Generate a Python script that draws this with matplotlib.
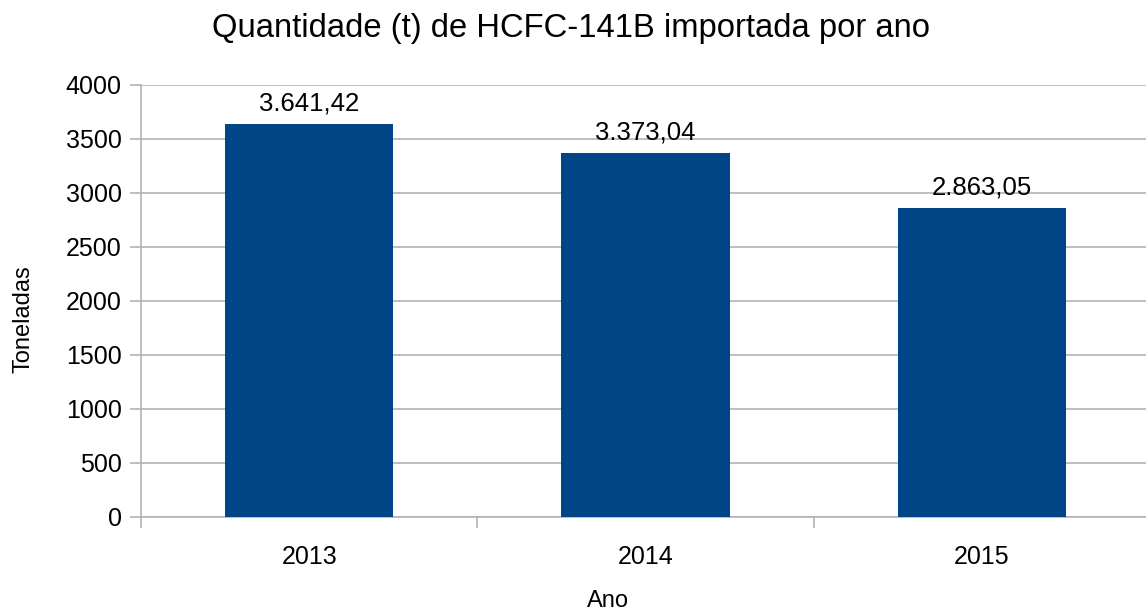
import numpy as np
import matplotlib.pyplot as plt

plt.rcParams['font.family'] = ['Liberation Sans', 'DejaVu Sans']

anos = ['2013', '2014', '2015']
toneladas = [3641.42, 3373.04, 2863.05]
rotulos = ['3.641,42', '3.373,04', '2.863,05']
yticks = [0, 500, 1000, 1500, 2000, 2500, 3000, 3500, 4000]

grid_cor = '#b3b3b3'
bar_cor = '#004586'

fig = plt.figure(figsize=(11.46, 6.13), dpi=100)
# plot area runs a little past the right edge of the figure
ax = fig.add_axes([141 / 1146, 1 - 517 / 613, (1150 - 141) / 1146, (517 - 85) / 613])

x = np.arange(len(anos))
ax.bar(x, toneladas, width=0.5, color=bar_cor, zorder=3)

for xi, v, r in zip(x, toneladas, rotulos):
    ax.text(xi, v + 80, r, ha='center', va='bottom', fontsize=18.5, color='black', zorder=4)

ax.set_xlim(-0.5, 2.5)
ax.set_ylim(0, 4000)
ax.set_yticks(yticks)
ax.set_yticklabels([str(t) for t in yticks], fontsize=18)
ax.set_xticks(x)
ax.set_xticklabels(anos, fontsize=18)
ax.set_xticks(np.arange(-0.5, 3, 1), minor=True)

ax.tick_params(axis='x', which='major', length=0, pad=20)
ax.tick_params(axis='x', which='minor', length=8, color=grid_cor, width=1.2, direction='out')
ax.tick_params(axis='y', length=8, color=grid_cor, width=1.2, pad=6)

ax.yaxis.grid(True, color=grid_cor, linewidth=1.2, zorder=0)
ax.set_axisbelow(True)
for s in ['top', 'right']:
    ax.spines[s].set_visible(False)
for s in ['left', 'bottom']:
    ax.spines[s].set_color(grid_cor)
    ax.spines[s].set_linewidth(1.2)

fig.text(571 / 1146, 1 - 28 / 613, 'Quantidade (t) de HCFC-141B importada por ano',
         ha='center', va='center', fontsize=23.6)
fig.text(24 / 1146, 1 - 319 / 613, 'Toneladas', rotation=90, ha='center', va='center', fontsize=17)
fig.text(608 / 1146, 1 - 601 / 613, 'Ano', ha='center', va='center', fontsize=17)

fig.savefig('out.png', dpi=100)
